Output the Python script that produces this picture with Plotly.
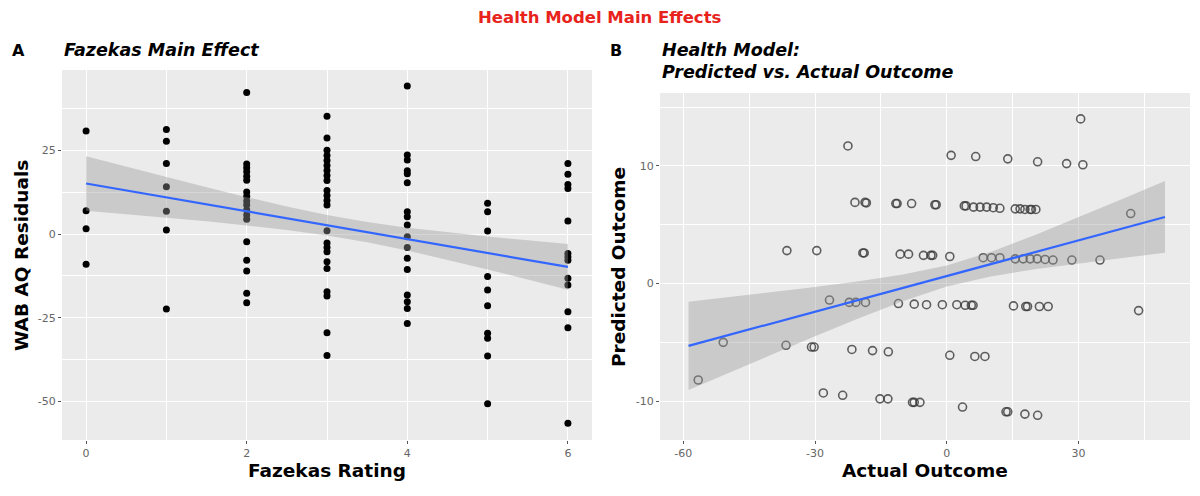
import plotly.graph_objects as go

# ---------------- Panel A data: WAB AQ residuals by Fazekas rating ----------------
res_f0 = [30.8, 7.0, 1.6, -9.0]
res_f1 = [31.2, 27.7, 21.1, 14.1, 6.8, 1.2, -22.4]
res_f2 = [42.3, 20.9, 19.8, 18.6, 17.3, 16.1, 12.6, 11.3, 9.9, 8.7, 7.2, 5.7, 4.4,
          -2.3, -7.8, -11.0, -17.7, -20.5]
res_f3 = [35.2, 28.7, 25.0, 23.5, 22.0, 20.5, 19.0, 17.5, 16.0, 13.0, 11.5, 10.0, 8.7,
          1.0, -2.7, -4.0, -5.3, -8.3, -10.3, -17.2, -18.5, -29.5, -36.3]
res_f4 = [44.2, 23.6, 22.1, 18.9, 18.0, 15.3, 6.7, 5.2, 2.7, -0.8, -4.0, -7.2, -10.6,
          -18.2, -20.2, -22.2, -26.7]
res_f5 = [9.2, 6.7, 0.9, -12.7, -16.7, -21.4, -29.6, -31.1, -36.4, -50.7]
res_f6 = [21.1, 17.9, 14.8, 13.6, 3.9, -5.8, -6.8, -7.8, -13.2, -15.2, -23.2, -28.0, -56.5]

# fitted line and 95% band (panel A)
fitA_x = [0, 0.5, 1, 1.5, 2, 2.5, 3, 3.5, 4, 4.5, 5, 5.5, 6]
fitA_y = [15.1, 13.03, 10.95, 8.88, 6.80, 4.73, 2.65, 0.58, -1.50, -3.58, -5.65, -7.73, -9.80]
fitA_lo = [6.99, 5.98, 4.91, 3.80, 2.58, 1.22, -0.43, -2.45, -4.90, -7.64, -10.55, -13.58, -16.65]
fitA_hi = [23.21, 20.08, 16.99, 13.96, 11.02, 8.24, 5.73, 3.61, 1.90, 0.48, -0.75, -1.88, -2.95]

# ---------------- Panel B data: predicted vs actual outcome ----------------
actual = [30.5, -22.5, 1.0, 6.6, 13.9, 20.7, 27.3, 31.0,
          -20.9, -18.6, -18.3, -11.6, -11.3, -8.0, -2.7, -2.4, 4.0, 4.4, 6.1, 7.6, 9.1,
          10.6, 12.1, 15.6, 16.7, 17.8, 19.0, 19.3, 20.3, 41.9,
          -36.4, -29.6, -19.1, -18.8, -10.6, -8.7, -5.3, -3.6, -3.2, 0.7, 8.3, 10.2,
          12.1, 15.6, 17.4, 19.0, 20.6, 22.4, 24.2, 28.5, 34.9,
          -26.7, -22.2, -20.7, -18.5, -11.0, -7.4, -4.6, -1.0, 2.3, 4.2, 5.6, 6.0,
          15.2, 18.0, 18.4, 21.1, 23.1, 43.7,
          -50.9, -36.6, -30.8, -30.2, -21.6, -16.9, -13.3, 0.7, 6.4, 8.7, -56.6,
          -28.1, -23.7, -15.2, -13.4, -7.8, -7.4, -6.1, 3.6, 13.5, 13.9, 17.8, 20.7]
predicted = [14.0, 11.7, 10.9, 10.8, 10.6, 10.35, 10.2, 10.1,
             6.9, 6.9, 6.85, 6.8, 6.8, 6.8, 6.7, 6.7, 6.6, 6.6, 6.5, 6.5, 6.5,
             6.45, 6.4, 6.35, 6.35, 6.3, 6.3, 6.3, 6.3, 5.95,
             2.8, 2.8, 2.6, 2.6, 2.5, 2.5, 2.4, 2.4, 2.4, 2.3, 2.2, 2.2,
             2.2, 2.1, 2.1, 2.1, 2.1, 2.05, 2.0, 2.0, 2.0,
             -1.4, -1.6, -1.6, -1.6, -1.7, -1.75, -1.8, -1.8, -1.8, -1.85, -1.85, -1.85,
             -1.9, -1.95, -1.95, -1.95, -1.95, -2.3,
             -5.0, -5.25, -5.4, -5.4, -5.6, -5.7, -5.8, -6.1, -6.2, -6.2, -8.2,
             -9.3, -9.5, -9.8, -9.8, -10.1, -10.1, -10.1, -10.5, -10.9, -10.9, -11.1, -11.2]

fitB_x = [-58.8, -50, -40, -30, -20, -10, 0, 10, 20, 30, 40, 49.7]
fitB_y = [-5.30, -4.41, -3.40, -2.39, -1.38, -0.37, 0.64, 1.65, 2.66, 3.67, 4.68, 5.66]
fitB_lo = [-9.05, -7.65, -6.06, -4.49, -2.96, -1.51, -0.26, 0.61, 1.22, 1.73, 2.18, 2.61]
fitB_hi = [-1.55, -1.17, -0.74, -0.29, 0.20, 0.77, 1.54, 2.69, 4.10, 5.61, 7.18, 8.71]

# tick labels
A_xticks = [0, 2, 4, 6]
A_xlabels = ["0", "2", "4", "6"]
A_yticks = [-50, -25, 0, 25]
A_ylabels = ["-50", "-25", "0", "25"]
B_xticks = [-60, -30, 0, 30]
B_xlabels = ["-60", "-30", "0", "30"]
B_yticks = [-10, 0, 10]
B_ylabels = ["-10", "0", "10"]

# ---------------------------------------------------------------------------
W, H = 1200, 496
FONT = "DejaVu Sans"
BLUE = "#3366FF"
BAND = "rgba(153,153,153,0.4)"

fig = go.Figure()

ratings = [0, 1, 2, 3, 4, 5, 6]
groups = [res_f0, res_f1, res_f2, res_f3, res_f4, res_f5, res_f6]
xs, ys = [], []
for r, g in zip(ratings, groups):
    xs += [r] * len(g)
    ys += g
fig.add_trace(go.Scatter(x=xs, y=ys, mode="markers", xaxis="x", yaxis="y",
                         marker=dict(color="black", size=7), showlegend=False,
                         hoverinfo="skip"))
fig.add_trace(go.Scatter(x=fitA_x, y=fitA_lo, mode="lines", xaxis="x", yaxis="y",
                         line=dict(width=0), showlegend=False, hoverinfo="skip"))
fig.add_trace(go.Scatter(x=fitA_x, y=fitA_hi, mode="lines", xaxis="x", yaxis="y",
                         line=dict(width=0), fill="tonexty", fillcolor=BAND,
                         showlegend=False, hoverinfo="skip"))
fig.add_trace(go.Scatter(x=fitA_x, y=fitA_y, mode="lines", xaxis="x", yaxis="y",
                         line=dict(color=BLUE, width=2.2), showlegend=False,
                         hoverinfo="skip"))

fig.add_trace(go.Scatter(x=actual, y=predicted, mode="markers", xaxis="x2", yaxis="y2",
                         marker=dict(symbol="circle-open", color="#3a3a3a", size=8,
                                     opacity=0.8, line=dict(width=1.6)),
                         showlegend=False, hoverinfo="skip"))
fig.add_trace(go.Scatter(x=fitB_x, y=fitB_lo, mode="lines", xaxis="x2", yaxis="y2",
                         line=dict(width=0), showlegend=False, hoverinfo="skip"))
fig.add_trace(go.Scatter(x=fitB_x, y=fitB_hi, mode="lines", xaxis="x2", yaxis="y2",
                         line=dict(width=0), fill="tonexty", fillcolor=BAND,
                         showlegend=False, hoverinfo="skip"))
fig.add_trace(go.Scatter(x=fitB_x, y=fitB_y, mode="lines", xaxis="x2", yaxis="y2",
                         line=dict(color=BLUE, width=2.2), showlegend=False,
                         hoverinfo="skip"))


def px_x(p):
    return p / W


def px_y(p):
    return 1 - p / H


tickfont = dict(family=FONT, size=11, color="#666666")


def axis(domain, rng, tv, tt, minor_vals, anchor):
    return dict(domain=domain, range=rng, tickmode="array", tickvals=tv, ticktext=tt,
                showgrid=True, gridcolor="white", gridwidth=1.2, zeroline=False,
                showline=False, ticks="outside", ticklen=3, tickwidth=1.1,
                tickcolor="#555555", tickfont=tickfont, anchor=anchor,
                minor=dict(tickmode="array", tickvals=minor_vals, showgrid=True,
                           gridcolor="white", gridwidth=0.6, ticks=""),
                fixedrange=True)


fig.update_layout(
    width=W, height=H, autosize=False,
    margin=dict(l=0, r=0, t=0, b=0),
    paper_bgcolor="white", plot_bgcolor="#EBEBEB",
    font=dict(family=FONT),
    xaxis=axis([px_x(62), px_x(592)], [-0.3, 6.3], A_xticks, A_xlabels, [1, 3, 5], "y"),
    yaxis=axis([px_y(440), px_y(70)], [-61.5, 49.0], A_yticks, A_ylabels,
               [-37.5, -12.5, 12.5, 37.5], "x"),
    xaxis2=axis([px_x(660), px_x(1190)], [-65.3, 55.4], B_xticks, B_xlabels,
                [-45, -15, 15, 45], "y2"),
    yaxis2=axis([px_y(440), px_y(93)], [-13.3, 16.2], B_yticks, B_ylabels,
                [-5, 5, 15], "x2"),
)


def ann(text, x, y, size, xanchor="center", color="black", angle=0):
    fig.add_annotation(text=text, x=px_x(x), y=px_y(y), xref="paper", yref="paper",
                       xanchor=xanchor, yanchor="middle", showarrow=False,
                       textangle=angle, font=dict(family=FONT, size=size, color=color))


ann("<b>Health Model Main Effects</b>", 600, 18, 16.5, color="#E8231C")
ann("<b>A</b>", 18, 50, 16)
ann("<b><i>Fazekas Main Effect</i></b>", 62, 50, 17.5, xanchor="left")
ann("<b>B</b>", 616, 50, 16)
ann("<b><i>Health Model:</i></b>", 660, 50, 17.5, xanchor="left")
ann("<b><i>Predicted vs. Actual Outcome</i></b>", 660, 72, 17.5, xanchor="left")
ann("<b>WAB AQ Residuals</b>", 21, 256, 18.5, angle=-90)
ann("<b>Predicted Outcome</b>", 618, 267, 18.5, angle=-90)
ann("<b>Fazekas Rating</b>", 327, 470, 18.5)
ann("<b>Actual Outcome</b>", 925, 470, 18.5)

fig.write_html("out.html", config={"displayModeBar": False},
               post_script="document.body.style.margin='0';document.body.style.overflow='hidden';")
